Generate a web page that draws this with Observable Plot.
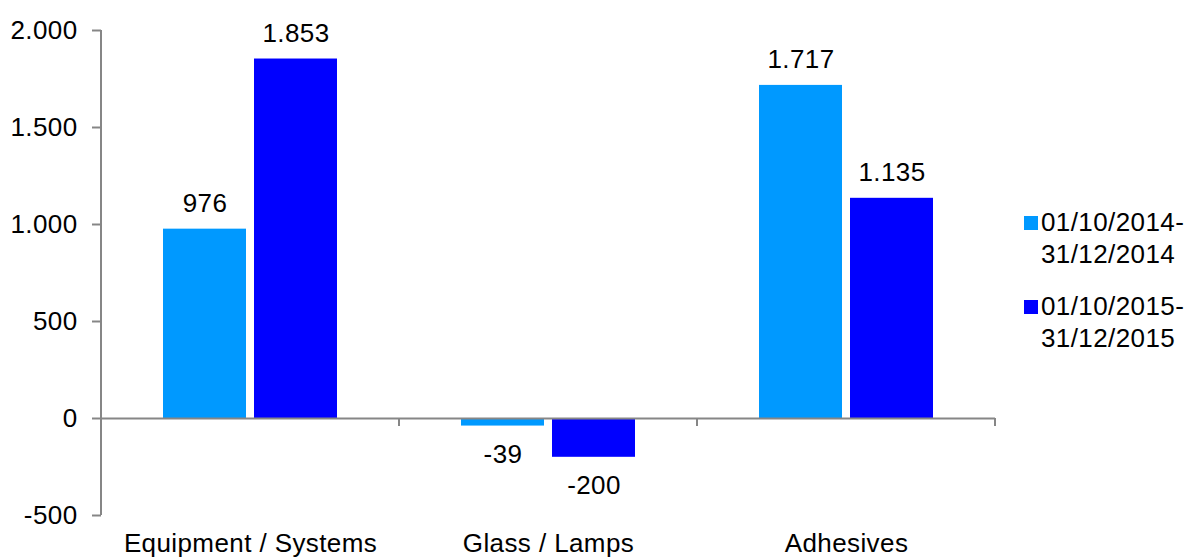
<!DOCTYPE html>
<html>
<head>
<meta charset="utf-8">
<script src="https://cdn.jsdelivr.net/npm/d3@7"></script>
<script src="https://cdn.jsdelivr.net/npm/@observablehq/plot@0.6"></script>
<style>
  html, body { margin: 0; padding: 0; background: #fff; }
  #wrap { position: relative; width: 1187px; height: 559px; font-family: "Liberation Sans", Arial, sans-serif; }
  #wrap svg text { letter-spacing: 0.4px; }
  #legend { position: absolute; left: 1024px; top: 206px; font-size: 26px; line-height: 32px; color: #000; letter-spacing: 0.4px; white-space: nowrap; }
  .entry { display: flex; align-items: flex-start; margin-bottom: 20px; }
  .sw { width: 14px; height: 14px; margin-top: 10px; margin-right: 3px; flex: none; }
</style>
</head>
<body>
<div id="wrap"></div>
<script>
const categories = ["Equipment / Systems", "Glass / Lamps", "Adhesives"];
const series = ["01/10/2014-31/12/2014", "01/10/2015-31/12/2015"];
const seriesLines = [["01/10/2014-", "31/12/2014"], ["01/10/2015-", "31/12/2015"]];
const values2014 = [976, -39, 1717];
const values2015 = [1853, -200, 1135];
const colors = ["#0099FF", "#0000FF"];
const yTicks = [-500, 0, 500, 1000, 1500, 2000];

const data = [];
categories.forEach((c, i) => {
  data.push({category: c, series: series[0], value: values2014[i]});
  data.push({category: c, series: series[1], value: values2015[i]});
});

const locale = d3.formatLocale({decimal: ",", thousands: ".", grouping: [3], currency: ["", ""], minus: "-"});
const fmt = locale.format(",d");
const gray = "#868686";
const font = "Liberation Sans, Arial, sans-serif";

const plot = Plot.plot({
  width: 1187,
  height: 559,
  marginLeft: 101,
  marginRight: 192,
  marginTop: 30,
  marginBottom: 44,
  style: {fontFamily: font, fontSize: "26px", background: "white", color: "black"},
  fx: {domain: categories, padding: 0, label: null},
  x: {domain: series, paddingInner: 0.088, paddingOuter: 0.68, axis: null},
  y: {domain: [-500, 2000], label: null},
  color: {domain: series, range: colors},
  marks: [
    Plot.barY(data, {fx: "category", x: "series", y: "value", fill: "series"}),
    Plot.ruleY([0], {stroke: gray, strokeWidth: 2}),
    Plot.axisY({ticks: yTicks, tickFormat: fmt, tickSize: 9, tickPadding: 15, stroke: gray, strokeWidth: 2, fill: "black", fontSize: 26, label: null}),
    Plot.axisFx({anchor: "bottom", tickSize: 0, tickPadding: 18, fill: "black", fontSize: 26, label: null}),
    Plot.text(data.filter(d => d.value >= 0), {fx: "category", x: "series", y: "value", text: d => fmt(d.value), lineAnchor: "bottom", dy: -17, fill: "black", fontSize: 26}),
    Plot.text(data.filter(d => d.value < 0), {fx: "category", x: "series", y: "value", text: d => fmt(d.value), lineAnchor: "top", dy: 18, fill: "black", fontSize: 26})
  ]
});

// Axis lines drawn with the plot's own scales
const svg = d3.select(plot.tagName.toLowerCase() === "svg" ? plot : plot.querySelector("svg"));
const yS = plot.scale("y");
const fxS = plot.scale("fx");
const y0 = yS.apply(0);
const yTop = yS.apply(2000);
const yBot = yS.apply(-500);
const x0 = fxS.apply(categories[0]);
const g = svg.append("g").attr("stroke", gray).attr("stroke-width", 2);
g.append("line").attr("x1", x0).attr("x2", x0).attr("y1", yTop).attr("y2", yBot);
const edges = categories.map(c => fxS.apply(c));
edges.push(fxS.apply(categories[categories.length - 1]) + fxS.bandwidth);
edges.slice(1).forEach(x => {
  g.append("line").attr("x1", x).attr("x2", x).attr("y1", y0).attr("y2", y0 + 8);
});

document.getElementById("wrap").appendChild(plot);

// Legend
const legend = document.createElement("div");
legend.id = "legend";
seriesLines.forEach((lines, i) => {
  const e = document.createElement("div");
  e.className = "entry";
  const sw = document.createElement("div");
  sw.className = "sw";
  sw.style.background = colors[i];
  const t = document.createElement("div");
  t.innerHTML = lines.join("<br>");
  e.appendChild(sw);
  e.appendChild(t);
  legend.appendChild(e);
});
document.getElementById("wrap").appendChild(legend);
</script>
</body>
</html>
